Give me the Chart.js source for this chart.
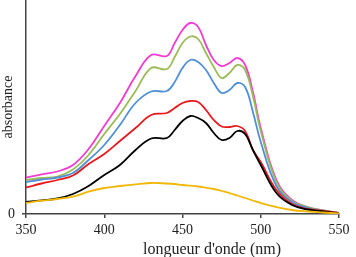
<!DOCTYPE html>
<html>
<head>
<meta charset="utf-8">
<script src="https://cdn.jsdelivr.net/npm/chart.js@4.4.1/dist/chart.umd.min.js"></script>
<style>
html, body { margin: 0; padding: 0; background: #fff; }
#wrap { width: 356px; height: 257px; }
</style>
</head>
<body>
<div id="wrap"><canvas id="spectra"></canvas></div>
<script>
// Absorption spectra

const wavelengths = [350, 360, 370, 380, 390, 400, 410, 420, 430, 440, 445, 450, 455, 460, 465, 470, 475, 480, 485, 490, 495, 500, 510, 520, 530, 540, 550];

const magentaAbs = [0.365, 0.397, 0.425, 0.49, 0.65, 0.88, 1.11, 1.38, 1.59, 1.58, 1.71, 1.84, 1.91, 1.87, 1.69, 1.54, 1.48, 1.51, 1.56, 1.49, 1.22, 0.86, 0.34, 0.14, 0.07, 0.035, 0.01];
const greenAbs = [0.34, 0.36, 0.375, 0.445, 0.59, 0.80, 1.00, 1.23, 1.46, 1.45, 1.57, 1.71, 1.775, 1.75, 1.61, 1.47, 1.36, 1.41, 1.49, 1.44, 1.18, 0.83, 0.32, 0.13, 0.07, 0.035, 0.01];
const blueAbs = [0.32, 0.345, 0.365, 0.41, 0.54, 0.69, 0.89, 1.11, 1.225, 1.23, 1.32, 1.46, 1.54, 1.52, 1.44, 1.31, 1.21, 1.24, 1.31, 1.27, 1.02, 0.72, 0.28, 0.12, 0.06, 0.03, 0.01];
const redAbs = [0.265, 0.305, 0.34, 0.385, 0.50, 0.60, 0.73, 0.86, 0.99, 1.01, 1.06, 1.11, 1.13, 1.12, 1.04, 0.94, 0.875, 0.87, 0.88, 0.83, 0.64, 0.52, 0.24, 0.10, 0.05, 0.03, 0.01];
const blackAbs = [0.12, 0.137, 0.155, 0.20, 0.28, 0.39, 0.49, 0.64, 0.755, 0.76, 0.84, 0.93, 0.98, 0.96, 0.91, 0.81, 0.74, 0.76, 0.83, 0.80, 0.64, 0.49, 0.21, 0.09, 0.045, 0.025, 0.007];
const yellowAbs = [0.11, 0.133, 0.15, 0.173, 0.223, 0.26, 0.28, 0.297, 0.31, 0.305, 0.30, 0.29, 0.283, 0.275, 0.263, 0.25, 0.23, 0.21, 0.185, 0.16, 0.135, 0.11, 0.07, 0.04, 0.025, 0.015, 0.005];

const xTicks = [350, 400, 450, 500, 550];
const yTicks = [0];

const serif = "'Liberation Serif', 'Times New Roman', serif";
const axisColor = '#444';

function series(values, color) {
    return {
        data: wavelengths.map((w, i) => ({ x: w, y: values[i] })),
        borderColor: color,
        borderWidth: 1.8,
        pointRadius: 0,
        tension: 0.4,
        fill: false
    };
}

// x axis title sits a bit right of centre in the original
const xTitlePlugin = {
    id: 'xTitle',
    afterDraw(chart) {
        const ctx = chart.ctx;
        ctx.save();
        ctx.font = "16px " + serif;
        ctx.fillStyle = '#222';
        ctx.textAlign = 'center';
        ctx.textBaseline = 'middle';
        ctx.fillText("longueur d'onde (nm)", 212, 250);
        ctx.restore();
    }
};

const spectraCanvas = document.getElementById("spectra");

let spectraChart = new Chart(spectraCanvas, {
    type: 'line',
    data: {
        datasets: [
            series(yellowAbs, '#F2B705'),
            series(blackAbs, '#000000'),
            series(redAbs, '#E8191C'),
            series(blueAbs, '#4F8FD6'),
            series(greenAbs, '#9BBB59'),
            series(magentaAbs, '#F03CD0')
        ]
    },
    options: {
        responsive: true,
        maintainAspectRatio: false,
        animation: false,
        layout: {
            padding: { top: 0, right: 17, bottom: 0, left: 0 }
        },
        plugins: {
            legend: { display: false },
            tooltip: { enabled: false }
        },
        scales: {
            x: {
                type: 'linear',
                min: 350,
                max: 550,
                afterBuildTicks: scale => { scale.ticks = xTicks.map(v => ({ value: v })); },
                afterFit: scale => { scale.height = 43; },
                border: { color: axisColor, width: 1.5 },
                grid: { drawOnChartArea: false, drawTicks: true, tickLength: 4, color: axisColor, lineWidth: 1.5 },
                ticks: { font: { family: serif, size: 14 }, color: '#222', padding: 4, maxRotation: 0 }
            },
            y: {
                min: 0,
                max: 2.14,
                afterBuildTicks: scale => { scale.ticks = yTicks.map(v => ({ value: v })); },
                afterFit: scale => {
                    scale.width = 26;
                    scale.paddingTop = 0;
                    scale.paddingBottom = 0;
                },
                border: { color: axisColor, width: 1.5 },
                grid: { drawOnChartArea: false, drawTicks: true, tickLength: 4, color: axisColor, lineWidth: 1.5 },
                ticks: { font: { family: serif, size: 14 }, color: '#222', padding: 7 },
                title: {
                    display: true,
                    text: 'absorbance',
                    font: { family: serif, size: 14 },
                    color: '#222',
                    padding: 0
                }
            }
        }
    },
    plugins: [xTitlePlugin]
});
</script>
</body>
</html>
